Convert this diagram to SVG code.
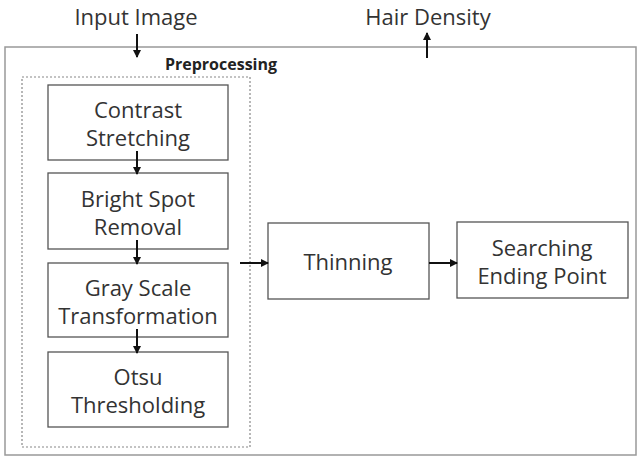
<svg xmlns="http://www.w3.org/2000/svg" width="639" height="460" viewBox="0 0 639 460">
<defs>
<marker id="ah" markerWidth="8" markerHeight="8" refX="7" refY="4" orient="auto" markerUnits="userSpaceOnUse">
<path d="M0,0 L8,4 L0,8 z" fill="#111"/>
</marker>
<style>
text{font-family:"Open Sans","Noto Sans","Liberation Sans",sans-serif;fill:#333;font-size:22px;text-anchor:middle}
.box{fill:#fff;stroke:#555;stroke-width:1.3}
.frame{fill:#fff;stroke:#999;stroke-width:1.5}
.dash{fill:none;stroke:#888;stroke-width:1.2;stroke-dasharray:2,2}
.conn{stroke:#111;stroke-width:2;fill:none;marker-end:url(#ah)}
.bold{font-weight:bold;font-size:16px;fill:#222}
</style>
</defs>
<rect width="639" height="460" fill="#fff"/>
<g id="frame"><rect class="frame" x="5" y="47" width="631" height="408"/></g>
<g id="labels">
<text x="136" y="25">Input Image</text>
<text x="428" y="25">Hair Density</text>
</g>
<g id="preprocessing">
<rect class="dash" x="22" y="77" width="228" height="370"/>
<text class="bold" x="221" y="70">Preprocessing</text>
</g>
<g id="contrast"><rect class="box" x="48" y="85" width="180" height="75"/><text x="138" y="118">Contrast</text><text x="138" y="146">Stretching</text></g>
<g id="bright"><rect class="box" x="48" y="173" width="180" height="76"/><text x="138" y="207">Bright Spot</text><text x="138" y="235">Removal</text></g>
<g id="gray"><rect class="box" x="48" y="263" width="180" height="74"/><text x="138" y="296">Gray Scale</text><text x="138" y="324">Transformation</text></g>
<g id="otsu"><rect class="box" x="48" y="352" width="180" height="75"/><text x="138" y="385">Otsu</text><text x="138" y="413">Thresholding</text></g>
<g id="thinning"><rect class="box" x="268" y="223" width="161" height="76"/><text x="348" y="270">Thinning</text></g>
<g id="searching"><rect class="box" x="457" y="222" width="171" height="76"/><text x="542" y="256">Searching</text><text x="542" y="284">Ending Point</text></g>
<g id="connectors">
<line class="conn" x1="137" y1="34" x2="137" y2="57"/>
<line class="conn" x1="427" y1="58" x2="427" y2="33"/>
<line class="conn" x1="137" y1="151" x2="137" y2="174"/>
<line class="conn" x1="137" y1="240" x2="137" y2="264"/>
<line class="conn" x1="137" y1="329" x2="137" y2="353"/>
<line class="conn" x1="240" y1="263" x2="268" y2="263"/>
<line class="conn" x1="429" y1="263" x2="457" y2="263"/>
</g>
</svg>
